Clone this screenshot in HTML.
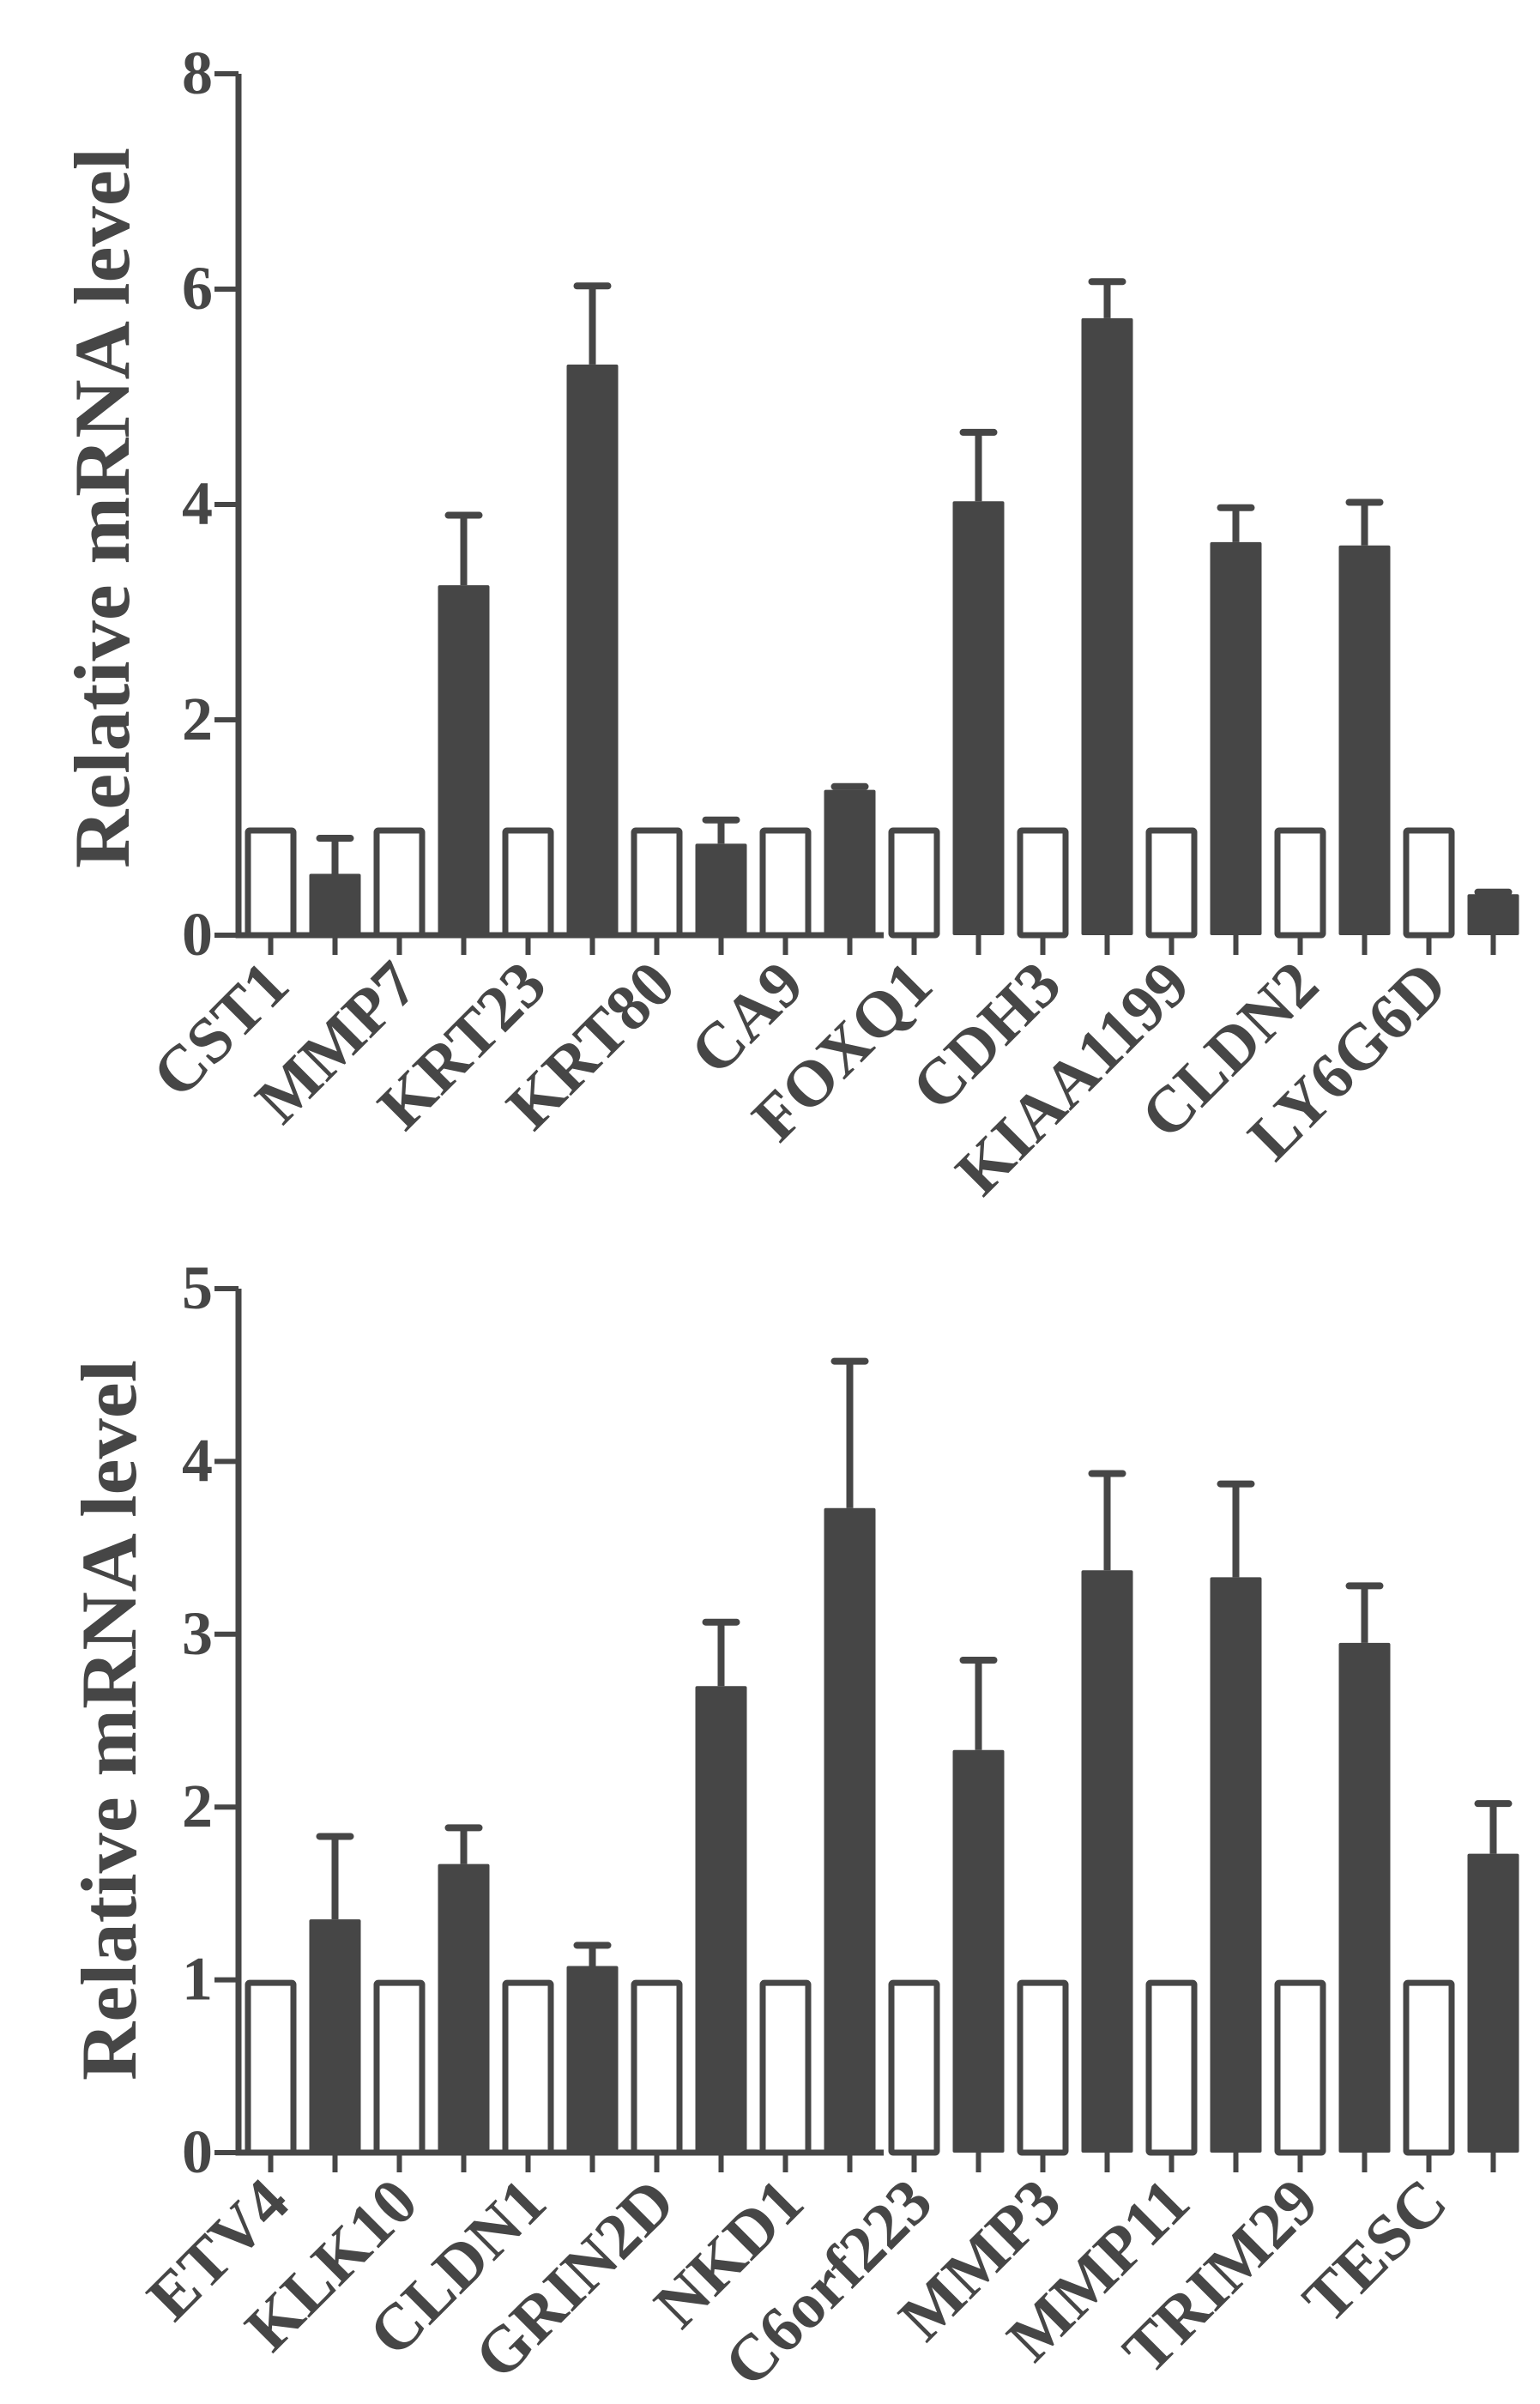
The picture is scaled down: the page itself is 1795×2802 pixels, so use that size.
<!DOCTYPE html>
<html><head><meta charset="utf-8"><style>
html,body{margin:0;padding:0;background:#fff;}
svg{display:block;}
text{font-family:"Liberation Serif",serif;font-weight:bold;fill:#464646;}
</style></head>
<body>
<svg id="chart" width="1795" height="2802" viewBox="0 0 1795 2802"></svg>
<script>
const genesTop = ["CST1","MMP7","KRT23","KRT80","CA9","FOXQ1","CDH3","KIAA1199","CLDN2","LY6G6D"];
const controlTop = [1,1,1,1,1,1,1,1,1,1];
const treatTop = [0.57,3.25,5.3,0.85,1.35,4.03,5.73,3.65,3.62,0.38];
const errTop = [0.33,0.65,0.73,0.22,0.03,0.64,0.34,0.32,0.4,0.02];
const ticksTop = [0,2,4,6,8];

const genesBot = ["ETV4","KLK10","CLDN1","GRIN2D","NKD1","C6orf223","MMP3","MMP11","TRIM29","TESC"];
const controlBot = [1,1,1,1,1,1,1,1,1,1];
const treatBot = [1.35,1.67,1.08,2.7,3.73,2.33,3.37,3.33,2.95,1.73];
const errBot = [0.48,0.21,0.12,0.37,0.85,0.52,0.56,0.54,0.33,0.29];
const ticksBot = [0,1,2,3,4,5];

const NS = "http://www.w3.org/2000/svg";
const svg = document.getElementById("chart");
const C = "#464646";
function el(tag, attrs, parent){ const e=document.createElementNS(NS,tag); for(const k in attrs) e.setAttribute(k,attrs[k]); (parent||svg).appendChild(e); return e; }

function drawPanel(id, genes, ctrl, treat, err, ticks, yTop, yZero, yMax, titleX, titleY){
  const g = el("g",{});
  
  
  const x0 = 278, slot = 75, bw = 60;
  const y = v => yZero - (v / yMax) * (yZero - yTop);
  const cx = i => x0 + slot * (i + 0.5);
  genes.forEach((name, k) => {
    const ic = 2*k, it = 2*k+1;
    const r1 = el("rect",{x:cx(ic)-bw/2+3.5,y:y(ctrl[k])+3.5,width:bw-7,height:yZero-y(ctrl[k])-3.5,fill:"#fff",stroke:C,"stroke-width":7,rx:2},g);
    
    
    const eTop = y(treat[k] + err[k]);
    const ln = el("line",{x1:cx(it),x2:cx(it),y1:y(treat[k]),y2:eTop,stroke:C,"stroke-width":8},g);
    
    
    const cap = el("line",{x1:cx(it)-18,x2:cx(it)+18,y1:eTop,y2:eTop,stroke:C,"stroke-width":8,"stroke-linecap":"round"},g);
    
    
    const r2 = el("rect",{x:cx(it)-bw/2,y:y(treat[k]),width:bw,height:yZero-y(treat[k]),fill:C,rx:2},g);
    
    
    const t = el("text",{"font-size":76,"text-anchor":"end",transform:`translate(${cx(ic)+25},${yZero+62}) rotate(-45)`},g);
    t.textContent = name;
    
    
  });
  const xa = el("line",{x1:x0,x2:x0+slot*genes.length+2,y1:yZero,y2:yZero,stroke:C,"stroke-width":7},g);
  
  
  for(let i=0;i<genes.length*2;i++){
    const tk = el("line",{x1:cx(i),x2:cx(i),y1:yZero,y2:yZero+23,stroke:C,"stroke-width":6},g);
    
    
  }
  const ya = el("line",{x1:x0,x2:x0,y1:yTop,y2:yZero+3.5,stroke:C,"stroke-width":7},g);
  
  
  ticks.forEach(v => {
    const tk = el("line",{x1:x0-28,x2:x0,y1:y(v),y2:y(v),stroke:C,"stroke-width":6},g);
    
    
    const t = el("text",{x:x0-30,y:y(v)+23,"font-size":72,"text-anchor":"end"},g);
    t.textContent = v;
    
    
  });
  const tt = el("text",{"font-size":92,"text-anchor":"middle",textLength:840,lengthAdjust:"spacingAndGlyphs",transform:`translate(${titleX},${titleY}) rotate(-90)`},g);
  tt.textContent = "Relative mRNA level";
  
  
}
drawPanel("top-panel", genesTop, controlTop, treatTop, errTop, ticksTop, 86, 1090, 8, 150, 592);
drawPanel("bottom-panel", genesBot, controlBot, treatBot, errBot, ticksBot, 1502, 2509, 5, 158, 2005);
</script>
</body></html>
